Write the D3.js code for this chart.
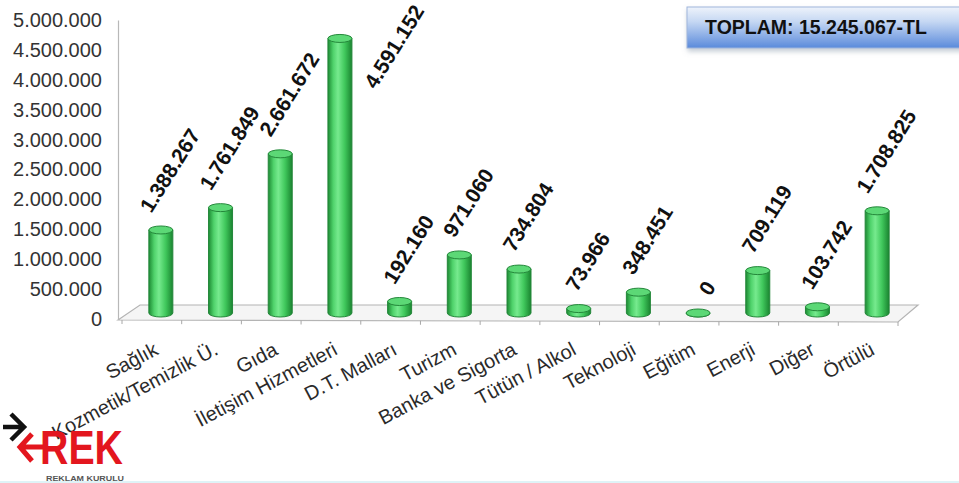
<!DOCTYPE html>
<html>
<head>
<meta charset="utf-8">
<script src="https://cdn.jsdelivr.net/npm/d3@7"></script>
<style>
  html, body { margin: 0; padding: 0; background: #ffffff; }
  svg { display: block; font-family: Arial, "Liberation Sans", sans-serif; }
</style>
</head>
<body>
<svg id="chart" width="959" height="483"></svg>
<script>
// ---- DATA ----
const categories = ["Sağlık", "Kozmetik/Temizlik Ü.", "Gıda", "İletişim Hizmetleri", "D.T. Malları", "Turizm", "Banka ve Sigorta", "Tütün / Alkol", "Teknoloji", "Eğitim", "Enerji", "Diğer", "Örtülü"];
const values = [1388267, 1761849, 2661672, 4591152, 192160, 971060, 734804, 73966, 348451, 0, 709119, 103742, 1708825];
const yTicks = [0, 500000, 1000000, 1500000, 2000000, 2500000, 3000000, 3500000, 4000000, 4500000, 5000000];
const totalLabel = "TOPLAM: 15.245.067-TL";
const logoText = "REK";
const logoSub = "REKLAM KURULU";

// ---- SETUP ----
const svg = d3.select("#chart");
const W = 959, H = 483;
const trLocale = d3.formatLocale({ decimal: ",", thousands: ".", grouping: [3], currency: ["", ""] });
const fmt = trLocale.format(",");

const x = d3.scaleBand().domain(categories).range([131, 907]).padding(0);
const y = d3.scaleLinear().domain([0, 5000000]).range([319, 20]);
const depth = 6;          // bars sit slightly behind the front axis line
const barW = 24, ry = 4;
const floorFront = 320, floorBack = 305, skew = 20;

const defs = svg.append("defs");
const g1 = defs.append("linearGradient").attr("id", "barGrad").attr("x1", "0").attr("x2", "1").attr("y1", "0").attr("y2", "0");
[[0, "#1d8a33"], [0.22, "#4fd26b"], [0.42, "#76ea8e"], [0.7, "#40c85c"], [1, "#1a8430"]].forEach(([o, c]) =>
  g1.append("stop").attr("offset", o).attr("stop-color", c));
const g2 = defs.append("linearGradient").attr("id", "boxGrad").attr("x1", "0").attr("x2", "0").attr("y1", "0").attr("y2", "1");
[[0, "#eef3fb"], [0.35, "#c6d8f3"], [1, "#5a8adb"]].forEach(([o, c]) =>
  g2.append("stop").attr("offset", o).attr("stop-color", c));
const f = defs.append("filter").attr("id", "shadow").attr("x", "-10%").attr("y", "-20%").attr("width", "130%").attr("height", "160%");
f.append("feDropShadow").attr("dx", 1).attr("dy", 3).attr("stdDeviation", 2.5).attr("flood-color", "#8899aa").attr("flood-opacity", 0.5);

// ---- FLOOR ----
const x0 = 118, x1 = x.range()[1] - 9;
svg.append("path")
  .attr("d", `M${x0},${floorFront} L${x0 + skew + 2},${floorBack} L${x1 + skew},${floorBack} L${x1},${floorFront + 2} Z`)
  .attr("fill", "#f5f5f5").attr("stroke", "#b4b4b4").attr("stroke-width", 1.2);

// x ticks on the front floor edge (band boundaries)
const tickXs = categories.map(c => x(c) - 9).concat([x1]);
svg.append("g").selectAll("line").data(tickXs).join("line")
  .attr("x1", d => d).attr("x2", d => d)
  .attr("y1", (d) => floorFront + 2 * (d - x0) / (x1 - x0))
  .attr("y2", (d) => floorFront + 2 * (d - x0) / (x1 - x0) + 4)
  .attr("stroke", "#a8a8a8").attr("stroke-width", 1);

// ---- Y AXIS ----
const yAxis = svg.append("g").attr("transform", `translate(${x0},0)`)
  .call(d3.axisLeft(y).tickValues(yTicks).tickFormat(fmt).tickSize(0).tickPadding(16));
yAxis.select(".domain").attr("stroke", "#b8b8b8").attr("stroke-width", 1.2);
yAxis.selectAll("text").attr("font-size", 20).attr("fill", "#333")
  .attr("font-family", "Arial, 'Liberation Sans', sans-serif");

// ---- BARS (cylinders) ----
const bars = svg.append("g").selectAll("g").data(categories).join("g");
bars.each(function (c, i) {
  const gg = d3.select(this);
  const cx = x(c) + x.bandwidth() / 2;
  const yt = y(values[i]) - depth;
  const yb = y(0) - depth;
  gg.append("path")
    .attr("d", `M${cx - barW / 2},${yt} L${cx - barW / 2},${yb} A${barW / 2},${ry} 0 0 0 ${cx + barW / 2},${yb} L${cx + barW / 2},${yt} Z`)
    .attr("fill", "url(#barGrad)").attr("stroke", "#24873a").attr("stroke-width", 1);
  gg.append("ellipse").attr("cx", cx).attr("cy", yt).attr("rx", barW / 2).attr("ry", ry)
    .attr("fill", "#5cd876").attr("stroke", "#24873a").attr("stroke-width", 1);
});

// ---- VALUE LABELS ----
const ang = 58, rad = ang * Math.PI / 180, hTxt = 15;
const vl = svg.append("g").selectAll("text").data(categories).join("text")
  .text((c, i) => fmt(values[i]))
  .attr("font-size", 21).attr("font-weight", "bold").attr("fill", "#111")
  .attr("text-anchor", "middle").attr("dy", "0.35em");
vl.each(function (c, i) {
  const t = d3.select(this);
  const L = this.getComputedTextLength();
  const bw = L * Math.cos(rad) + hTxt * Math.sin(rad);
  const bh = L * Math.sin(rad) + hTxt * Math.cos(rad);
  const cx = x(c) + x.bandwidth() / 2;
  const topEdge = y(values[i]) - depth - ry;
  let lx = cx + 9, ly = topEdge - 12 - bh / 2;
  if (ly - bh / 2 < 2) {           // does not fit above: place beside the bar
    lx = cx + barW / 2 + 11 + bw / 2;
    ly = 3 + bh / 2;
  }
  t.attr("transform", `translate(${lx},${ly}) rotate(${-ang})`);
});

// ---- CATEGORY LABELS ----
svg.append("g").selectAll("text").data(categories).join("text")
  .text(d => d)
  .attr("font-size", 20).attr("fill", "#2a2a2a")
  .attr("text-anchor", "end").attr("dy", "0.72em")
  .attr("transform", d => `translate(${x(d) + x.bandwidth() / 2 - 8},${341}) rotate(-28)`);

// ---- TOTAL BOX ----
const box = svg.append("g");
box.append("rect").attr("x", 687).attr("y", 7).attr("width", 290).attr("height", 41)
  .attr("fill", "url(#boxGrad)").attr("stroke", "#9fb6dc").attr("stroke-width", 1).attr("filter", "url(#shadow)");
box.append("text").attr("x", 816).attr("y", 27.5).attr("dy", "0.35em").attr("text-anchor", "middle")
  .attr("font-size", 19.5).attr("font-weight", "bold").attr("fill", "#111").text(totalLabel);

// ---- LOGO ----
const logo = svg.append("g");
logo.append("path").attr("d", "M3,427 L24,427 M11,414 L24,427 L11,440")
  .attr("fill", "none").attr("stroke", "#111").attr("stroke-width", 4.5).attr("stroke-linejoin", "miter");
logo.append("path").attr("d", "M44,447 L22,447 M32,434 L20,447 L32,461")
  .attr("fill", "none").attr("stroke", "#e3161e").attr("stroke-width", 5);
logo.append("text").attr("x", 40).attr("y", 464).attr("font-size", 49).attr("font-weight", "bold")
  .attr("fill", "#e3161e").attr("textLength", 83).attr("lengthAdjust", "spacingAndGlyphs").text(logoText);
logo.append("text").attr("x", 46).attr("y", 481).attr("font-size", 7).attr("font-weight", "bold")
  .attr("fill", "#555").attr("textLength", 78).attr("lengthAdjust", "spacingAndGlyphs").text(logoSub);

// faint bottom border line
svg.append("line").attr("x1", 0).attr("x2", W).attr("y1", H - 1).attr("y2", H - 1)
  .attr("stroke", "#dff3f7").attr("stroke-width", 2);
</script>
</body>
</html>
